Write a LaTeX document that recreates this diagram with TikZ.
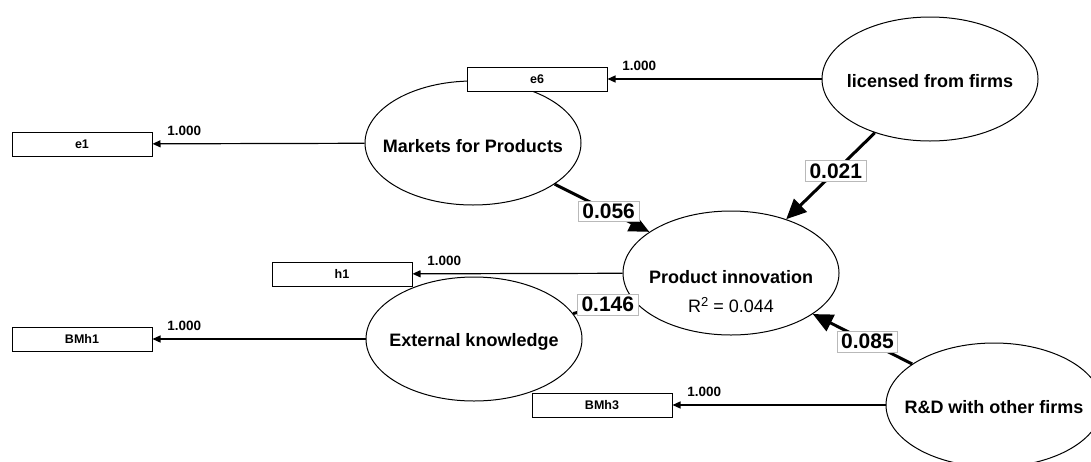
\documentclass[tikz,border=0pt]{standalone}
\usepackage{fontspec}
\setmainfont{Liberation Sans}
\usetikzlibrary{shapes.geometric,arrows.meta}

\begin{document}
\begin{tikzpicture}[x=1pt,y=-1pt,
  latent/.style={draw,ellipse,line width=1pt,minimum width=216pt,minimum height=124pt,inner sep=0pt},
  lname/.style={font=\fontsize{18}{20}\selectfont\bfseries},
  indic/.style={draw,fill=white,line width=1pt,minimum width=140pt,minimum height=24pt,inner sep=0pt,font=\fontsize{12.5}{14}\selectfont\bfseries},
  load/.style={line width=1.2pt,-{Triangle[length=8pt,width=7pt]}},
  effect/.style={line width=3pt,-{Triangle[length=20pt,width=18pt]}},
  wt/.style={font=\fontsize{13.5}{15}\selectfont\bfseries,anchor=south west,xshift=11pt,yshift=4pt},
  coef/.style={draw=gray!55,line width=0.8pt,fill=white,inner xsep=4pt,inner ysep=3pt,font=\fontsize{21}{23}\selectfont\bfseries}]
\useasboundingbox (0,0) rectangle (1091,461);
\clip (0,0) rectangle (1091,461);

% latent variables
\node[latent] (mkt) at (473,143) {};
\node[latent] (lic) at (930,79) {};
\node[latent] (pi) at (731,273) {};
\node[latent] (ext) at (474,339) {};
\node[latent] (rd) at (994,405) {};
\node[lname] (mkttxt) at (473,146) {Markets for Products};
\node[lname] (lictxt) at (930,81) {licensed from firms};
\node[lname] (pitxt) at (731,277) {Product innovation};
\node[font=\fontsize{18}{20}\selectfont] (pir2) at (731,305) {R{\fontsize{13}{14}\selectfont\raisebox{6.5pt}{2}} = 0.044};
\node[lname] (exttxt) at (474,342) {External knowledge};
\node[lname] (rdtxt) at (994,407) {R\&D with other firms};

% indicators
\node[indic] (e6) at (537,79) {e6};
\node[indic] (e1) at (82,144) {e1};
\node[indic] (h1) at (342,274) {h1};
\node[indic] (bmh1) at (82,339) {BMh1};
\node[indic] (bmh3) at (602,405) {BMh3};

% loadings
\draw[load] (lic) -- (e6) node[wt,at end] {1.000};
\draw[load] (mkt) -- (e1) node[wt,at end] {1.000};
\draw[load] (pi) -- (h1) node[wt,at end] {1.000};
\draw[load] (ext.west |- bmh1) -- (bmh1) node[wt,at end] {1.000};
\draw[load] (rd) -- (bmh3) node[wt,at end] {1.000};

% path coefficients
\draw[effect] (mkt) -- (pi) node[coef,pos=0.57] {0.056};
\draw[effect] (lic) -- (pi) node[coef,pos=0.44] {0.021};
\draw[effect] (rd) -- (pi) node[coef,pos=0.45] {0.085};
\draw[effect] (ext) -- (pi) node[coef,pos=0.59] {0.146};
\end{tikzpicture}
\end{document}
